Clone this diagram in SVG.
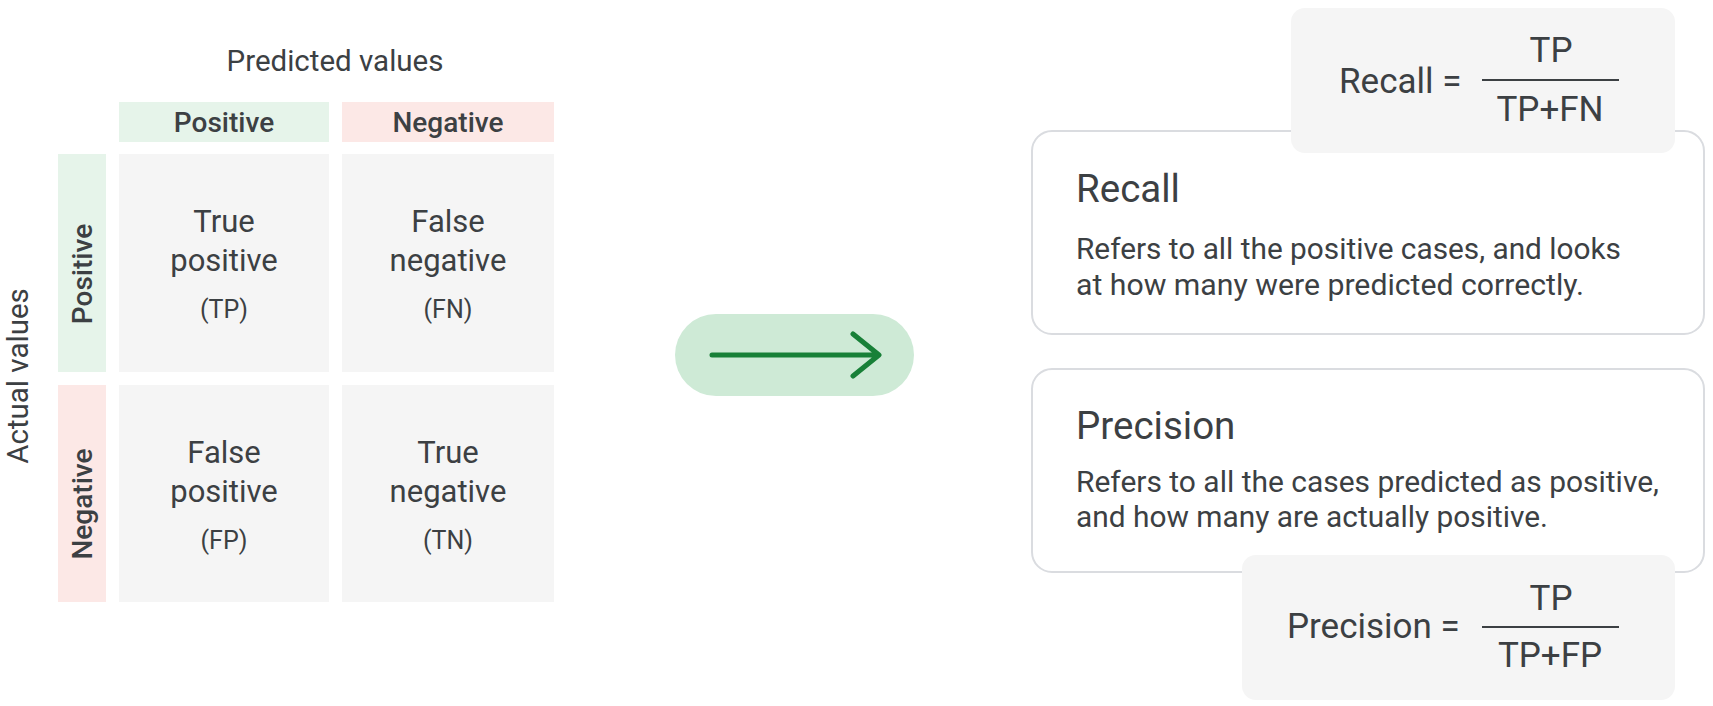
<svg xmlns="http://www.w3.org/2000/svg" width="1713" height="706" viewBox="0 0 1713 706">
<style>
text{font-family:Roboto,"Liberation Sans",sans-serif;fill:#3c4043}
.axis{font-size:29.5px}
.hdr{font-size:28px;font-weight:500;text-anchor:middle}
.cell{fill:#f5f5f5}
.ct{font-size:31px;text-anchor:middle}
.cs{font-size:25px;text-anchor:middle}
.pos{fill:#e6f4ea}
.neg{fill:#fce8e6}
.card{fill:#ffffff;stroke:#dadce0;stroke-width:2}
.fbox{fill:#f5f5f5}
.h{font-size:38.5px}
.body{font-size:29px}
.f{font-size:35px}
.fl{stroke:#3c4043;stroke-width:2}
</style>
<g id="predicted-label"><text class="axis" x="335" y="71" text-anchor="middle">Predicted values</text></g>
<g id="actual-label"><text class="axis" transform="translate(28,376) rotate(-90)" text-anchor="middle">Actual values</text></g>
<g id="col-positive"><rect class="pos" x="119" y="102" width="210" height="40"/><text class="hdr" x="224" y="132">Positive</text></g>
<g id="col-negative"><rect class="neg" x="342" y="102" width="212" height="40"/><text class="hdr" x="448" y="132">Negative</text></g>
<g id="row-positive"><rect class="pos" x="58" y="154" width="48" height="218"/><text class="hdr" transform="translate(92,274) rotate(-90)">Positive</text></g>
<g id="row-negative"><rect class="neg" x="58" y="385" width="48" height="217"/><text class="hdr" transform="translate(92,504) rotate(-90)">Negative</text></g>
<g id="tp"><rect class="cell" x="119" y="154" width="210" height="218"/><text class="ct" x="224" y="232">True</text><text class="ct" x="224" y="271">positive</text><text class="cs" x="224" y="318">(TP)</text></g>
<g id="fn"><rect class="cell" x="342" y="154" width="212" height="218"/><text class="ct" x="448" y="232">False</text><text class="ct" x="448" y="271">negative</text><text class="cs" x="448" y="318">(FN)</text></g>
<g id="fp"><rect class="cell" x="119" y="385" width="210" height="217"/><text class="ct" x="224" y="463">False</text><text class="ct" x="224" y="502">positive</text><text class="cs" x="224" y="549">(FP)</text></g>
<g id="tn"><rect class="cell" x="342" y="385" width="212" height="217"/><text class="ct" x="448" y="463">True</text><text class="ct" x="448" y="502">negative</text><text class="cs" x="448" y="549">(TN)</text></g>
<g id="arrow"><rect x="675" y="314" width="239" height="82" rx="41" fill="#ceead6"/><path d="M712 355H878M853 334L879 355L853 376" fill="none" stroke="#188038" stroke-width="5" stroke-linecap="round" stroke-linejoin="round"/></g>
<g id="recall-card"><rect class="card" x="1032" y="131" width="672" height="203" rx="20"/><text class="h" x="1076" y="202">Recall</text><text class="body" x="1076" y="259" textLength="545" lengthAdjust="spacingAndGlyphs">Refers to all the positive cases, and looks</text><text class="body" x="1076" y="295" textLength="508" lengthAdjust="spacingAndGlyphs">at how many were predicted correctly.</text></g>
<g id="recall-formula"><rect class="fbox" x="1291" y="8" width="384" height="145" rx="14"/><text class="f" x="1339" y="93">Recall =</text><line class="fl" x1="1482" y1="80" x2="1619" y2="80"/><text class="f" x="1551" y="62" text-anchor="middle">TP</text><text class="f" x="1550" y="121" text-anchor="middle">TP+FN</text></g>
<g id="precision-card"><rect class="card" x="1032" y="369" width="672" height="203" rx="20"/><text class="h" x="1076" y="439">Precision</text><text class="body" x="1076" y="492" textLength="583" lengthAdjust="spacingAndGlyphs">Refers to all the cases predicted as positive,</text><text class="body" x="1076" y="527" textLength="472" lengthAdjust="spacingAndGlyphs">and how many are actually positive.</text></g>
<g id="precision-formula"><rect class="fbox" x="1242" y="555" width="433" height="145" rx="14"/><text class="f" x="1287" y="638">Precision =</text><line class="fl" x1="1482" y1="627" x2="1619" y2="627"/><text class="f" x="1551" y="610" text-anchor="middle">TP</text><text class="f" x="1550" y="667" text-anchor="middle">TP+FP</text></g>
<g id="connectors"></g>
</svg>
